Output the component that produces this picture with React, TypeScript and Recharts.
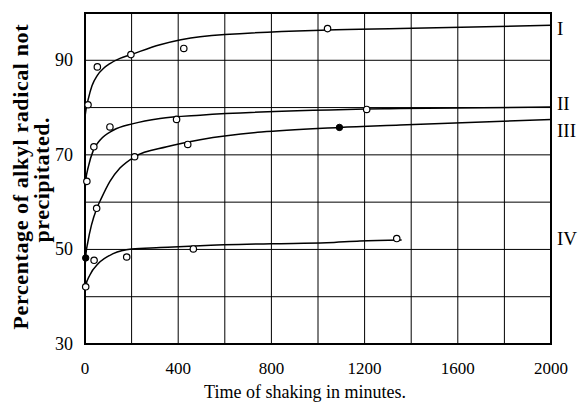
import React from "react";
import {
  ComposedChart,
  Line,
  Scatter,
  XAxis,
  YAxis,
  CartesianGrid,
  ReferenceArea,
} from "recharts";

// curves as drawn
const curveI = [
  [0, 78], [4, 79.5], [15, 82], [30, 84.6], [53, 86.8], [80, 88.3], [107, 89.3],
  [150, 90.4], [197, 91.2], [322, 93.3], [494, 95.0], [1041, 96.4], [1352, 96.7], [2000, 97.4],
];
const curveII = [
  [0, 62.5], [3, 64.4], [15, 67.6], [36, 71.0], [64, 73.1], [121, 75.2], [207, 76.6],
  [322, 77.7], [494, 78.4], [1352, 79.8], [2000, 80.1],
];
const curveIII = [
  [0, 46], [3, 48.5], [12, 51.5], [28, 55.2], [50, 58.6], [70, 60.8], [107, 64.4], [150, 67.2],
  [213, 69.6], [351, 71.7], [494, 73.2], [1092, 75.8], [1352, 76.3], [2000, 77.5],
];
const curveIV = [
  [0, 40.5], [3, 42.3], [21, 44.6], [57, 47], [121, 49.1], [200, 50.1], [322, 50.4],
  [494, 50.8], [800, 51.2], [1037, 51.4], [1180, 51.8], [1359, 52.0],
];

// observed points
const pointsI = [[13, 80.6], [53, 88.6], [197, 91.2], [424, 92.5], [1041, 96.7]];
const pointsII = [[8, 64.4], [38, 71.7], [107, 75.9], [393, 77.5], [1209, 79.6]];
const pointsIII = [[50, 58.7], [213, 69.6], [441, 72.2]];
const pointsIV = [[3, 42.1], [39, 47.7], [179, 48.4], [465, 50.1], [1338, 52.3]];
const filledPoints = [[3, 48.2], [1092, 75.8]];

// curve names, set at the right of the frame
const curveNames = ["I", "II", "III", "IV"];
const curveLabelY = [95.3, 79.4, 73.7, 50.9];

const xTicks = [0, 200, 400, 600, 800, 1000, 1200, 1400, 1600, 1800, 2000];
const yTicks = [30, 40, 50, 60, 70, 80, 90, 100];

const FONT = "Liberation Serif";

const toXY = (arr: number[][]) => arr.map(([x, y]) => ({ x, y }));

const labelData = curveNames.map((n, i) => ({ x: 2000, y: curveLabelY[i], name: n }));

const OpenDot = (p: any) => (
  <circle cx={p.cx} cy={p.cy} r={3.2} fill="#fff" stroke="#000" strokeWidth={1.2} />
);
const FilledDot = (p: any) => (
  <circle cx={p.cx} cy={p.cy} r={3.2} fill="#000" stroke="#000" strokeWidth={1} />
);
const NameMark = (p: any) => (
  <text x={p.cx + 6} y={p.cy} fontFamily={FONT} fontSize={19} fill="#000">
    {p.payload.name}
  </text>
);

const XTick = (p: any) => {
  const v = p.payload.value;
  if (v % 400 !== 0) return <g />;
  return (
    <text x={p.x} y={p.y + 22} textAnchor="middle" fontFamily={FONT} fontSize={17} fill="#000">
      {v}
    </text>
  );
};
const YTick = (p: any) => {
  const v = p.payload.value;
  if (v % 20 !== 10) return <g />;
  return (
    <text x={p.x} y={p.y + 6} textAnchor="end" fontFamily={FONT} fontSize={18} fill="#000">
      {v}
    </text>
  );
};

const YTitle = () => (
  <g fontFamily={FONT} fontWeight="bold" fontSize={22} fill="#000">
    <text
      transform="translate(28,177) rotate(-90)"
      textAnchor="middle"
      textLength={305}
      lengthAdjust="spacing"
    >
      Percentage of alkyl radical not
    </text>
    <text
      transform="translate(49,180) rotate(-90)"
      textAnchor="middle"
      textLength={125}
      lengthAdjust="spacing"
    >
      precipitated.
    </text>
  </g>
);

const XTitle = () => (
  <text x={305} y={398} textAnchor="middle" fontFamily={FONT} fontSize={18} fill="#000">
    Time of shaking in minutes.
  </text>
);

export default function App() {
  const lineProps = {
    type: "monotone" as const,
    dataKey: "y",
    stroke: "#000",
    strokeWidth: 1.5,
    dot: false,
    activeDot: false,
    isAnimationActive: false,
  };
  return (
    <div style={{ position: "absolute", left: 0, top: 0, background: "#fff" }}>
      <ComposedChart
        width={584}
        height={403}
        margin={{ top: 13, right: 33, bottom: 29, left: 0 }}
      >
        <CartesianGrid stroke="#000" strokeWidth={1} />
        <XAxis
          type="number"
          dataKey="x"
          domain={[0, 2000]}
          ticks={xTicks}
          interval={0}
          tick={XTick}
          tickLine={false}
          axisLine={false}
          height={30}
          label={{ content: () => <XTitle /> }}
        />
        <YAxis
          type="number"
          dataKey="y"
          domain={[30, 100]}
          ticks={yTicks}
          interval={0}
          tick={YTick}
          tickLine={false}
          axisLine={false}
          tickMargin={6}
          width={85}
          label={{ content: () => <YTitle /> }}
        />
        <ReferenceArea
          x1={0}
          x2={2000}
          y1={30}
          y2={100}
          fill="none"
          stroke="#000"
          strokeWidth={2}
          fillOpacity={0}
          ifOverflow="visible"
        />
        <Line {...lineProps} data={toXY(curveI)} />
        <Line {...lineProps} data={toXY(curveII)} />
        <Line {...lineProps} data={toXY(curveIII)} />
        <Line {...lineProps} data={toXY(curveIV)} />
        <Scatter data={toXY(pointsI)} shape={OpenDot} isAnimationActive={false} />
        <Scatter data={toXY(pointsII)} shape={OpenDot} isAnimationActive={false} />
        <Scatter data={toXY(pointsIII)} shape={OpenDot} isAnimationActive={false} />
        <Scatter data={toXY(pointsIV)} shape={OpenDot} isAnimationActive={false} />
        <Scatter data={toXY(filledPoints)} shape={FilledDot} isAnimationActive={false} />
        <Scatter data={labelData} shape={NameMark} isAnimationActive={false} />
      </ComposedChart>
    </div>
  );
}
